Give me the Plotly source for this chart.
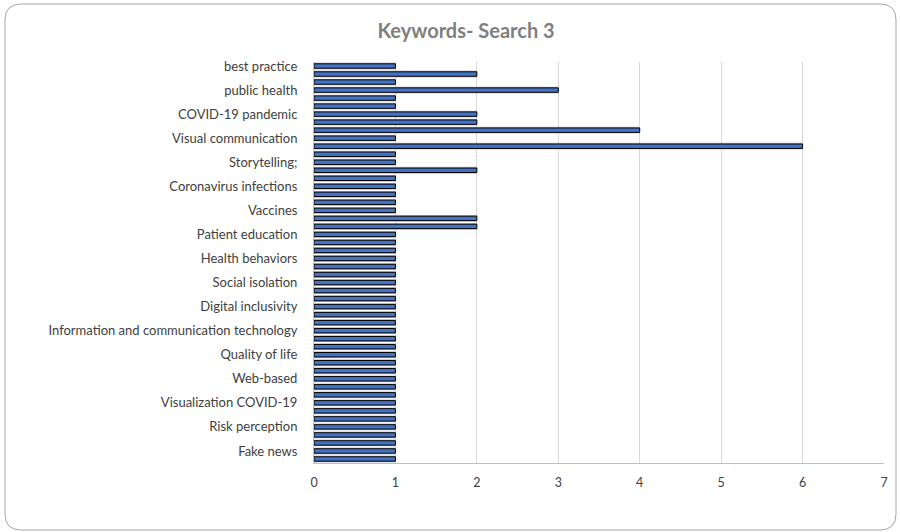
import plotly.graph_objects as go

# ---- data (top to bottom) ----
counts = [1, 2, 1, 3, 1, 1, 2, 2, 4, 1, 6, 1, 1, 2, 1, 1, 1, 1, 1, 2, 2,
          1, 1, 1, 1, 1, 1, 1, 1, 1, 1, 1, 1, 1, 1, 1, 1, 1, 1, 1, 1, 1,
          1, 1, 1, 1, 1, 1, 1, 1]
tick_labels = ["best practice", "public health", "COVID-19 pandemic",
               "Visual communication", "Storytelling;", "Coronavirus infections",
               "Vaccines", "Patient education", "Health behaviors",
               "Social isolation", "Digital inclusivity",
               "Information and communication technology", "Quality of life",
               "Web-based", "Visualization COVID-19", "Risk perception",
               "Fake news"]
label_step = 3
x_ticks = [0, 1, 2, 3, 4, 5, 6, 7]
title_text = "Keywords- Search 3"

positions = list(range(len(counts)))
tick_positions = positions[::label_step][:len(tick_labels)]

W, H = 900, 532
ML, MR, MT, MB = 314, 16, 62, 69
PW, PH = W - ML - MR, H - MT - MB

fig = go.Figure()
# soft gray shadow behind bars
fig.add_trace(go.Bar(
    x=counts, y=positions, orientation="h", width=0.85,
    marker=dict(color="rgba(120,120,120,0.45)", line=dict(width=0)),
    hoverinfo="skip", showlegend=False))
fig.add_trace(go.Bar(
    x=counts, y=positions, orientation="h", width=0.55,
    marker=dict(color="#4472C4", line=dict(color="#000000", width=1)),
    showlegend=False))

# rounded outer border (pixel -> paper)
def px(x):
    return (x - ML) / PW
def py(y):
    return (H - MB - y) / PH
x0, x1, y0, y1, r = 5, 896, 4, 530, 16
path = (f"M {px(x0 + r)} {py(y0)} L {px(x1 - r)} {py(y0)} "
        f"Q {px(x1)} {py(y0)} {px(x1)} {py(y0 + r)} "
        f"L {px(x1)} {py(y1 - r)} Q {px(x1)} {py(y1)} {px(x1 - r)} {py(y1)} "
        f"L {px(x0 + r)} {py(y1)} Q {px(x0)} {py(y1)} {px(x0)} {py(y1 - r)} "
        f"L {px(x0)} {py(y0 + r)} Q {px(x0)} {py(y0)} {px(x0 + r)} {py(y0)} Z")

fig.update_layout(
    width=W, height=H,
    margin=dict(l=ML, r=MR, t=MT, b=MB, pad=0),
    paper_bgcolor="white", plot_bgcolor="white",
    barmode="overlay",
    font=dict(family="Lato, 'Open Sans', sans-serif", size=13, color="#404040"),
    title=dict(text=f"<b>{title_text}</b>", x=466 / W, xref="container",
               xanchor="center", y=1 - 31 / H, yref="container", yanchor="middle",
               font=dict(family="Lato, 'Open Sans', sans-serif", size=20, color="#7f7f7f")),
    xaxis=dict(range=[0, 7], tickvals=x_ticks, showgrid=True, gridcolor="#d9d9d9",
               gridwidth=1, zeroline=False, showline=True, linecolor="#bfbfbf",
               linewidth=1, ticks="", ticklabelstandoff=8,
               tickfont=dict(size=12.5, color="#404040")),
    yaxis=dict(range=[len(counts) - 0.5, -0.5], tickvals=tick_positions,
               ticktext=tick_labels, showgrid=False, zeroline=False,
               showline=True, linecolor="#bfbfbf", linewidth=1, ticks="",
               ticklabelstandoff=13, tickfont=dict(size=13, color="#404040")),
    shapes=[dict(type="path", path=path, xref="paper", yref="paper",
                 line=dict(color="#a6a6a6", width=1), fillcolor="rgba(0,0,0,0)",
                 layer="below")],
)

fig.write_html("out.html")
